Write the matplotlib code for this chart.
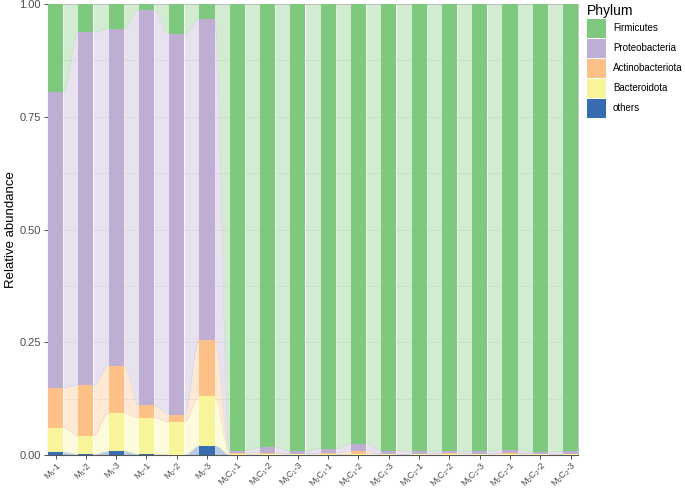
import numpy as np
import matplotlib
matplotlib.use('Agg')
import matplotlib.pyplot as plt
from matplotlib.patches import Patch

plt.rcParams['font.family'] = ['Liberation Sans', 'DejaVu Sans']

# amostras
amostras = ['M₁-1', 'M₁-2', 'M₁-3', 'M₂-1', 'M₂-2', 'M₂-3',
            'M₁C₁-1', 'M₁C₁-2', 'M₁C₁-3', 'M₂C₁-1', 'M₂C₁-2', 'M₂C₁-3',
            'M₁C₂-1', 'M₁C₂-2', 'M₁C₂-3', 'M₂C₂-1', 'M₂C₂-2', 'M₂C₂-3']

# abundancias relativas por filo (de baixo para cima)
others = [0.007, 0.002, 0.009, 0.002, 0.001, 0.021, 0.001, 0.001, 0.001,
          0.001, 0.001, 0.001, 0.001, 0.001, 0.001, 0.001, 0.001, 0.001]
bacteroidota = [0.054, 0.041, 0.084, 0.081, 0.072, 0.109, 0.002, 0.002, 0.001,
                0.002, 0.002, 0.001, 0.001, 0.002, 0.001, 0.002, 0.001, 0.001]
actinobacteriota = [0.088, 0.112, 0.105, 0.027, 0.016, 0.125, 0.001, 0.002, 0.001,
                    0.001, 0.006, 0.001, 0.001, 0.001, 0.001, 0.001, 0.001, 0.001]
proteobacteria = [0.657, 0.783, 0.747, 0.877, 0.845, 0.712, 0.006, 0.012, 0.005,
                  0.010, 0.016, 0.007, 0.005, 0.005, 0.005, 0.008, 0.003, 0.005]
firmicutes = [0.194, 0.062, 0.055, 0.013, 0.066, 0.033, 0.990, 0.983, 0.992,
              0.986, 0.975, 0.990, 0.992, 0.991, 0.992, 0.988, 0.994, 0.992]

filos = ['others', 'Bacteroidota', 'Actinobacteriota', 'Proteobacteria', 'Firmicutes']
valores = [others, bacteroidota, actinobacteriota, proteobacteria, firmicutes]
cores = ['#386CB0', '#F8F49A', '#FDC086', '#BEAED4', '#7FC97F']

fig = plt.figure(figsize=(6.85, 4.88), dpi=100)
ax = fig.add_axes([0.070, 0.0676, 0.774, 0.924])

x = np.arange(1, len(amostras) + 1)
largura = 0.5
dados = np.array(valores)
topo = np.cumsum(dados, axis=0)
base = topo - dados

# fluxos entre as barras
t = np.linspace(0, 1, 60)
s = (1 - np.cos(np.pi * t)) / 2
for k in range(len(filos)):
    for i in range(len(x) - 1):
        xs = x[i] + largura / 2 + t * (1 - largura)
        b = base[k, i] + (base[k, i + 1] - base[k, i]) * s
        tp = topo[k, i] + (topo[k, i + 1] - topo[k, i]) * s
        ax.fill_between(xs, b, tp, color=cores[k], alpha=0.35, linewidth=0, zorder=2)
        ax.plot(xs, tp, color='#999999', alpha=0.25, linewidth=0.4, zorder=2)

# barras
for k in range(len(filos)):
    ax.bar(x, dados[k], bottom=base[k], width=largura, color=cores[k],
           linewidth=0, zorder=3)

ax.set_xlim(0.75, len(x) + 0.25)
ax.set_ylim(0, 1)
ax.set_xticks(x)
ax.set_xticklabels(amostras, rotation=45, ha='right', va='top', rotation_mode='anchor',
                   fontsize=6.6, color='#4d4d4d')
ax.set_yticks([0, 0.25, 0.5, 0.75, 1.0])
ax.set_yticklabels(['0.00', '0.25', '0.50', '0.75', '1.00'], fontsize=8, color='#4d4d4d')
ax.set_yticks([0.125, 0.375, 0.625, 0.875], minor=True)
ax.tick_params(axis='both', which='major', length=3, color='#333333', width=0.6)
ax.tick_params(axis='x', pad=1)
ax.tick_params(axis='y', pad=2)
ax.tick_params(axis='y', which='minor', length=0)
ax.grid(True, which='both', axis='y', color='#ebebeb', linewidth=0.6, zorder=0)
ax.set_axisbelow(True)
ax.set_ylabel('Relative abundance', fontsize=9.5, labelpad=2)

for lado in ['left', 'bottom']:
    ax.spines[lado].set_color('#555555')
    ax.spines[lado].set_linewidth(0.8)
for lado in ['top', 'right']:
    ax.spines[lado].set_color('#bbbbbb')
    ax.spines[lado].set_linewidth(0.6)

handles = [Patch(facecolor=cores[k], edgecolor='none') for k in range(len(filos) - 1, -1, -1)]
labels = [filos[k] for k in range(len(filos) - 1, -1, -1)]
leg = fig.legend(handles, labels, title='Phylum', loc='upper left',
                 bbox_to_anchor=(587 / 685, 1 - 4 / 488), bbox_transform=fig.transFigure,
                 frameon=False, fontsize=7, title_fontsize=10,
                 handlelength=1.96, handleheight=2.63, labelspacing=0.1,
                 handletextpad=0.7, borderaxespad=0, borderpad=0)
leg._legend_box.align = 'left'

plt.savefig('out.png', dpi=100)
